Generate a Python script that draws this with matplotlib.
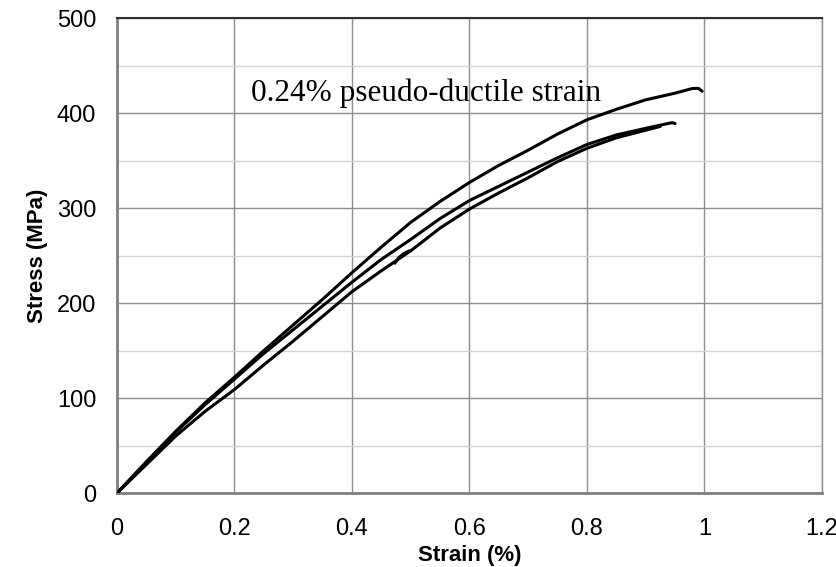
import matplotlib.pyplot as plt
from matplotlib.ticker import MultipleLocator

# three tensile tests
strain_a = [0, 0.05, 0.1, 0.15, 0.2, 0.25, 0.3, 0.35, 0.4, 0.45, 0.5, 0.55,
            0.6, 0.65, 0.7, 0.75, 0.8, 0.85, 0.9, 0.95, 0.98, 0.99, 0.996]
stress_a = [0, 33, 65, 95, 122, 150, 177, 204, 232, 259, 285, 307,
            327, 345, 361, 378, 393, 404, 414, 421, 426, 426, 423]

strain_b = [0, 0.05, 0.1, 0.15, 0.2, 0.25, 0.3, 0.35, 0.4, 0.45, 0.5, 0.55,
            0.6, 0.65, 0.7, 0.75, 0.8, 0.85, 0.9, 0.93, 0.945, 0.95]
stress_b = [0, 32, 64, 93, 120, 147, 172, 197, 222, 246, 267, 289,
            308, 323, 338, 353, 367, 377, 384, 388, 390, 389]

strain_c = [0, 0.05, 0.1, 0.15, 0.2, 0.25, 0.3, 0.35, 0.4, 0.45, 0.5, 0.55,
            0.6, 0.65, 0.7, 0.75, 0.8, 0.85, 0.9, 0.925]
stress_c = [0, 30, 60, 86, 109, 135, 160, 186, 212, 234, 255, 279,
            299, 316, 332, 349, 363, 374, 382, 386]

# short reload hook near 0.48 %
strain_hook = [0.473, 0.48, 0.488, 0.497]
stress_hook = [242, 248, 252, 255]

plt.rcParams['font.family'] = ['Liberation Sans', 'DejaVu Sans']

fig = plt.figure(figsize=(8.37, 5.67), dpi=100)
ax = fig.add_axes([0.1398, 0.1305, 0.8422, 0.8375])

for x, y in [(strain_a, stress_a), (strain_b, stress_b),
             (strain_c, stress_c), (strain_hook, stress_hook)]:
    ax.plot(x, y, color='black', lw=2.2, solid_capstyle='round',
            solid_joinstyle='round', zorder=3)

ax.set_xlim(0, 1.2)
ax.set_ylim(0, 500)
ax.yaxis.set_major_locator(MultipleLocator(100))
ax.yaxis.set_minor_locator(MultipleLocator(50))
ax.set_xticks([0, 0.2, 0.4, 0.6, 0.8, 1, 1.2])
ax.set_xticklabels(['0', '0.2', '0.4', '0.6', '0.8', '1', '1.2'])

ax.grid(which='major', color='#8e8e8e', lw=1.0)
ax.grid(which='minor', axis='y', color='#d4d4d4', lw=1.0)
ax.set_axisbelow(True)

ax.tick_params(which='both', length=0, labelsize=17)
ax.tick_params(axis='x', pad=18)
ax.tick_params(axis='y', pad=15)

for side in ['left', 'bottom']:
    ax.spines[side].set_color('#808080')
    ax.spines[side].set_linewidth(2.0)
ax.spines['top'].set_color('#303030')
ax.spines['top'].set_linewidth(1.5)
ax.spines['right'].set_color('#8e8e8e')
ax.spines['right'].set_linewidth(1.0)

ax.set_xlabel('Strain (%)', fontsize=16, fontweight='bold')
ax.xaxis.set_label_coords(0.5, -0.11)
ax.set_ylabel('Stress (MPa)', fontsize=16, fontweight='bold', labelpad=6)

ax.text(0.228, 413, '0.24% pseudo-ductile strain', fontsize=22.5,
        family=['Liberation Serif', 'DejaVu Serif'], va='baseline')

fig.savefig('out.png', dpi=100)
